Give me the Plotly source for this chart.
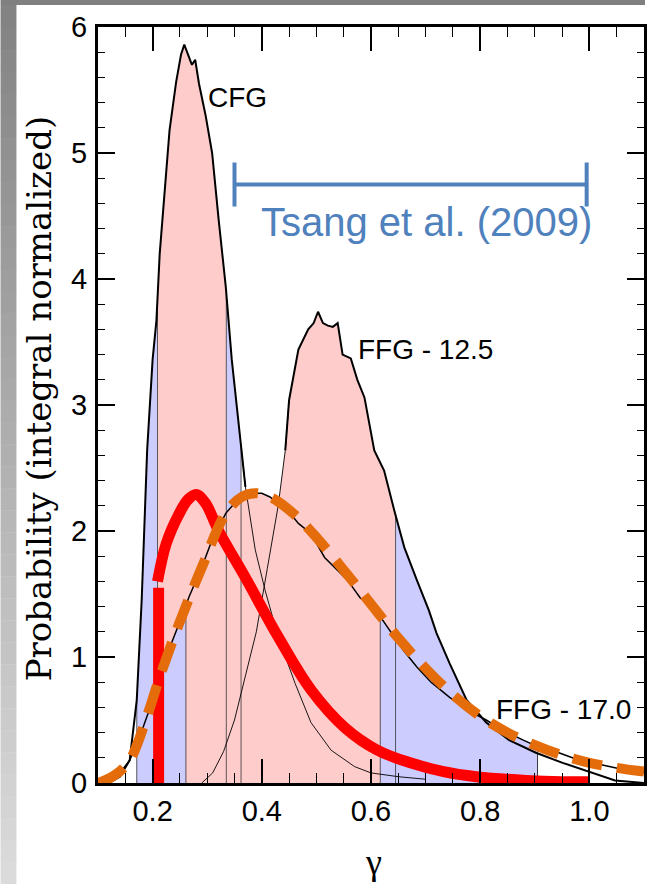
import numpy as np
import plotly.graph_objects as go

# ---------------- data ----------------
cfg_x = [0.12, 0.14, 0.158, 0.171, 0.18, 0.19, 0.20, 0.207, 0.213, 0.222, 0.231, 0.243, 0.252,
         0.258, 0.265, 0.272, 0.278, 0.285, 0.297, 0.309, 0.321, 0.334, 0.345, 0.355, 0.363,
         0.37, 0.388, 0.406, 0.43, 0.461, 0.49, 0.527, 0.57, 0.60, 0.65, 0.70]
cfg_y = [0.0, 0.05, 0.18, 0.66, 1.45, 2.64, 3.36, 3.67, 4.20, 4.73, 5.18, 5.56, 5.78,
         5.86, 5.78, 5.70, 5.74, 5.55, 5.30, 5.00, 4.47, 3.94, 3.36, 2.95, 2.64,
         2.35, 1.85, 1.53, 1.16, 0.79, 0.48, 0.26, 0.13, 0.08, 0.05, 0.03]

ffg125_x = [0.29, 0.31, 0.33, 0.35, 0.37, 0.39, 0.41, 0.43, 0.443, 0.45, 0.467, 0.485, 0.495,
            0.503, 0.512, 0.521, 0.53, 0.539, 0.548, 0.563, 0.575, 0.588, 0.606, 0.624, 0.644,
            0.661, 0.684, 0.706, 0.72, 0.744, 0.775, 0.811, 0.853, 0.902, 0.951, 1.005, 1.047, 1.10]
ffg125_y = [0.0, 0.08, 0.25, 0.50, 0.85, 1.20, 1.70, 2.20, 2.64, 3.04, 3.44, 3.60, 3.65,
            3.74, 3.65, 3.63, 3.62, 3.65, 3.40, 3.37, 3.20, 3.06, 2.64, 2.48, 2.14,
            1.87, 1.61, 1.37, 1.19, 0.95, 0.66, 0.48, 0.34, 0.24, 0.16, 0.08, 0.02, 0.0]

ffg17_x = [0.12, 0.14, 0.158, 0.175, 0.189, 0.20, 0.213, 0.23, 0.249, 0.267, 0.29, 0.309, 0.334,
           0.35, 0.363, 0.375, 0.388, 0.40, 0.415, 0.43, 0.45, 0.467, 0.49, 0.515, 0.537, 0.557,
           0.58, 0.60, 0.617, 0.64, 0.66, 0.684, 0.71, 0.744, 0.78, 0.811, 0.845, 0.879, 0.91,
           0.944, 0.975, 1.005, 1.035, 1.07, 1.10]
ffg17_y = [0.0, 0.08, 0.18, 0.35, 0.52, 0.65, 0.84, 1.06, 1.27, 1.48, 1.71, 1.93, 2.14,
           2.22, 2.27, 2.30, 2.30, 2.30, 2.27, 2.22, 2.15, 2.06, 1.98, 1.79, 1.70, 1.61,
           1.47, 1.40, 1.32, 1.18, 1.05, 0.92, 0.80, 0.68, 0.57, 0.50, 0.41, 0.34, 0.28,
           0.24, 0.19, 0.16, 0.13, 0.10, 0.08]

model_x = [0.10, 0.13, 0.158, 0.189, 0.213, 0.249, 0.29, 0.334, 0.363, 0.39, 0.42, 0.46, 0.50,
           0.55, 0.60, 0.65, 0.70, 0.75, 0.80, 0.85, 0.90, 0.95, 1.00, 1.05, 1.10]
model_y = [0.0, 0.06, 0.18, 0.52, 0.84, 1.27, 1.71, 2.14, 2.27, 2.30, 2.26, 2.13, 1.95,
           1.69, 1.42, 1.15, 0.91, 0.70, 0.53, 0.40, 0.30, 0.22, 0.16, 0.12, 0.09]

red_x = [0.209, 0.225, 0.249, 0.265, 0.28, 0.297, 0.321, 0.37, 0.43, 0.49, 0.552, 0.612,
         0.672, 0.733, 0.793, 0.884, 0.95, 1.0]
red_y = [1.60, 1.90, 2.14, 2.25, 2.29, 2.22, 2.00, 1.63, 1.16, 0.74, 0.44, 0.26,
         0.16, 0.09, 0.05, 0.02, 0.01, 0.01]
red_cut_x = 0.211
red_cut_top = 1.55

# credible-region boundaries: (outer-left, inner-left, inner-right, outer-right)
cfg_bounds = [0.171, 0.209, 0.335, 0.362]
ffg125_bounds = [0.36, 0.42, 0.645, 0.905]
ffg17_bounds = [0.171, 0.261, 0.617, 0.905]

tsang_lo, tsang_hi, tsang_level = 0.35, 0.995, 4.75

labels = ["CFG", "FFG - 12.5", "FFG - 17.0"]
label_x = [0.298, 0.572, 0.826]
label_y = [5.44, 3.44, 0.58]
tsang_text = "Tsang et al. (2009)"

# ---------------- styling ----------------
PINK = "#FFCCCC"
BLUE = "#CCCCFF"
SANS = "Liberation Sans, Arial, sans-serif"

fig = go.Figure()


def segment(xs, ys, a, b):
    xs = np.asarray(xs, float)
    ys = np.asarray(ys, float)
    m = (xs > a) & (xs < b)
    sx = np.concatenate([[a], xs[m], [b]])
    sy = np.concatenate([[np.interp(a, xs, ys)], ys[m], [np.interp(b, xs, ys)]])
    return sx, sy


def add_fills(xs, ys, bounds):
    o1, i1, i2, o2 = bounds
    for a, b, c in [(o1, i1, BLUE), (i1, i2, PINK), (i2, o2, BLUE)]:
        sx, sy = segment(xs, ys, a, b)
        fig.add_trace(go.Scatter(x=sx, y=sy, mode="lines", fill="tozeroy", fillcolor=c,
                                 line=dict(width=0), hoverinfo="skip"))


add_fills(cfg_x, cfg_y, cfg_bounds)
add_fills(ffg125_x, ffg125_y, ffg125_bounds)
add_fills(ffg17_x, ffg17_y, ffg17_bounds)

# vertical boundary lines
vx, vy = [], []
for xs, ys, bnds in [(cfg_x, cfg_y, cfg_bounds), (ffg125_x, ffg125_y, ffg125_bounds[2:]),
                     (ffg17_x, ffg17_y, ffg17_bounds[1:])]:
    for b in bnds:
        vx += [b, b, None]
        vy += [0, float(np.interp(b, xs, ys)), None]
fig.add_trace(go.Scatter(x=vx, y=vy, mode="lines", line=dict(color="#333333", width=0.8),
                         hoverinfo="skip"))

# black distribution curves
cx, cy = np.array(cfg_x), np.array(cfg_y)
fig.add_trace(go.Scatter(x=cx[cx >= 0.363], y=cy[cx >= 0.363], mode="lines",
                         line=dict(color="black", width=0.9)))
fig.add_trace(go.Scatter(x=cx[cx <= 0.37], y=cy[cx <= 0.37], mode="lines",
                         line=dict(color="black", width=2)))
fx, fy = np.array(ffg125_x), np.array(ffg125_y)
fig.add_trace(go.Scatter(x=fx[fx <= 0.45], y=fy[fx <= 0.45], mode="lines",
                         line=dict(color="black", width=0.9)))
fig.add_trace(go.Scatter(x=fx[fx >= 0.443], y=fy[fx >= 0.443], mode="lines",
                         line=dict(color="black", width=2)))
fig.add_trace(go.Scatter(x=ffg17_x, y=ffg17_y, mode="lines",
                         line=dict(color="black", width=1.5)))

# red model
fig.add_trace(go.Scatter(x=[red_cut_x, red_cut_x], y=[0, red_cut_top], mode="lines",
                         line=dict(color="#FF0000", width=11)))
fig.add_trace(go.Scatter(x=red_x, y=red_y, mode="lines", line_shape="spline",
                         line=dict(color="#FF0000", width=11)))

# orange dashed model
fig.add_trace(go.Scatter(x=model_x, y=model_y, mode="lines", line_shape="spline",
                         line=dict(color="#E46C0A", width=10, dash="30px,15px")))

# Tsang et al. range bar
fig.add_trace(go.Scatter(x=[(tsang_lo + tsang_hi) / 2], y=[tsang_level], mode="markers",
                         marker=dict(size=1, color="rgba(0,0,0,0)"),
                         error_x=dict(type="data", symmetric=True, array=[(tsang_hi - tsang_lo) / 2],
                                      color="#4F81BD", thickness=4, width=22)))

for t, x, y in zip(labels, label_x, label_y):
    fig.add_annotation(x=x, y=y, text=t, showarrow=False, xanchor="left", yanchor="middle",
                       font=dict(family=SANS, size=28, color="black"))
fig.add_annotation(x=0.394, y=4.45, text=tsang_text, showarrow=False, xanchor="left",
                   yanchor="middle", font=dict(family=SANS, size=40, color="#4F81BD"))

# axis titles
fig.add_annotation(xref="paper", yref="paper", x=-0.1075, y=0.508, text="Probability (integral normalized)",
                   textangle=-90, showarrow=False, xanchor="center", yanchor="middle",
                   font=dict(family="DejaVu Serif, Liberation Serif, serif", size=34, color="black"))
fig.add_annotation(xref="paper", yref="paper", x=0.5046, y=-0.1045, text="γ", showarrow=False,
                   xanchor="center", yanchor="middle",
                   font=dict(family="Liberation Serif, serif", size=36, color="black"))

# gray slide border (top band + left gradient band)
L, T, PW, PH = 98, 27, 549, 756
def px2x(p): return (p - L) / PW
def py2y(p): return (T + PH - p) / PH
shapes = [dict(type="rect", xref="paper", yref="paper", x0=px2x(0), x1=px2x(648), y0=py2y(0), y1=py2y(5),
               fillcolor="#808080", line=dict(width=0), layer="below")]
n = 40
for i in range(n):
    p0 = 5 + (884 - 5) * i / n
    p1 = 5 + (884 - 5) * (i + 1) / n
    g = int(round(0x82 + (0xdc - 0x82) * (i + 0.5) / n))
    shapes.append(dict(type="rect", xref="paper", yref="paper", x0=px2x(0), x1=px2x(16),
                       y0=py2y(p0), y1=py2y(p1) - 0.0005, fillcolor=f"rgb({g},{g},{g})",
                       line=dict(width=0), layer="below"))

axis_common = dict(showline=True, linewidth=3, linecolor="black", mirror="allticks", ticks="inside",
                   tickcolor="black", tickwidth=1.5, showgrid=False, zeroline=False,
                   tickfont=dict(family=SANS, size=29, color="black"))

fig.update_layout(
    width=648, height=884, margin=dict(l=L, r=648 - L - PW, t=T, b=884 - T - PH),
    paper_bgcolor="white", plot_bgcolor="white", showlegend=False, shapes=shapes,
    xaxis=dict(range=[0.1, 1.1], tick0=0, dtick=0.2, tickformat=".1f", ticklen=24,
               minor=dict(dtick=0.05, ticks="inside", ticklen=10, tickwidth=1.2, tickcolor="black"),
               **axis_common),
    yaxis=dict(range=[0, 6], tick0=0, dtick=1, ticklen=17, ticklabelstandoff=2,
               minor=dict(dtick=0.2, ticks="inside", ticklen=7, tickwidth=1.2, tickcolor="black"),
               **axis_common),
)

fig.write_html("out.html")
